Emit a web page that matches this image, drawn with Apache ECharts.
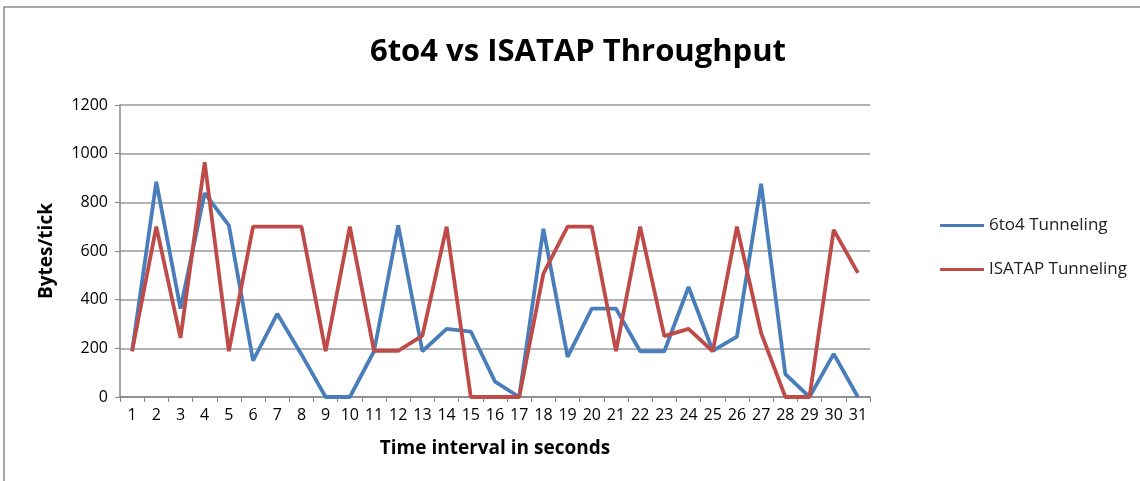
<!DOCTYPE html>
<html><head><meta charset="utf-8">
<script src="https://cdn.jsdelivr.net/npm/echarts@6/dist/echarts.min.js"></script>
<style>html,body{margin:0;padding:0;background:#fff}#c{width:1140px;height:481px}</style>
</head><body><div id="c"></div>
<script>
const categories = ['1','2','3','4','5','6','7','8','9','10','11','12','13','14','15','16','17','18','19','20','21','22','23','24','25','26','27','28','29','30','31'];
const tunneling6to4 = [188,884,363,838,705,149,342,175,0,0,188,705,188,280,269,63,0,691,165,363,363,188,188,452,190,248,876,94,0,177,0];
const tunnelingIsatap = [188,700,243,965,188,700,700,700,188,700,190,190,252,700,0,0,0,507,700,700,188,700,250,280,188,700,263,0,0,687,510];
const yTicks = [0,200,400,600,800,1000,1200];

const font = '"Open Sans", sans-serif';
const chart = echarts.init(document.getElementById('c'));
chart.setOption({
  animation: false,
  backgroundColor: '#fff',
  graphic: [{type:'rect', shape:{x:4,y:7,width:1150,height:490}, style:{fill:'none', stroke:'#8c8c8c', lineWidth:1.5}}],
  title: {text:'6to4 vs ISATAP Throughput', left: 573, top: 32, textAlign:'center',
    textStyle:{fontFamily:font, fontWeight:'bold', fontSize:31, color:'#000'}},
  legend: {orient:'vertical', left: 935, top: 212, itemGap: 27, itemWidth: 44, itemHeight: 3,
    icon: 'rect',
    textStyle:{fontFamily:font, fontSize:17, color:'#222'},
    data:['6to4 Tunneling','ISATAP Tunneling']},
  grid: {left:120, right:270, top:105, bottom:84},
  xAxis: {type:'category', data: categories, boundaryGap:true,
    name:'Time interval in seconds', nameLocation:'middle', nameGap:42,
    nameTextStyle:{fontFamily:font, fontWeight:'bold', fontSize:19, color:'#000'},
    axisLine:{lineStyle:{color:'#868686', width:1.5}},
    axisTick:{show:true, length:5, lineStyle:{color:'#868686'}},
    axisLabel:{fontFamily:font, fontSize:16, color:'#000', margin:10, interval:0}},
  yAxis: {type:'value', min:0, max:1200, interval:200,
    name:'Bytes/tick', nameLocation:'middle', nameGap:64, nameRotate:90,
    nameTextStyle:{fontFamily:font, fontWeight:'bold', fontSize:19, color:'#000'},
    axisLine:{show:true, lineStyle:{color:'#868686', width:1.5}},
    axisTick:{show:true, length:5, lineStyle:{color:'#868686'}},
    axisLabel:{fontFamily:font, fontSize:16, color:'#000', margin:12,
      formatter: v => yTicks.includes(v) ? String(v) : ''},
    splitLine:{lineStyle:{color:'#9a9a9a', width:1.5}}},
  series: [
    {name:'6to4 Tunneling', type:'line', data: tunneling6to4, symbol:'none',
      lineStyle:{color:'#4A7EBB', width:3.8}, itemStyle:{color:'#4A7EBB'}},
    {name:'ISATAP Tunneling', type:'line', data: tunnelingIsatap, symbol:'none',
      lineStyle:{color:'#BE4B48', width:3.8}, itemStyle:{color:'#BE4B48'}}
  ]
});
</script></body></html>
